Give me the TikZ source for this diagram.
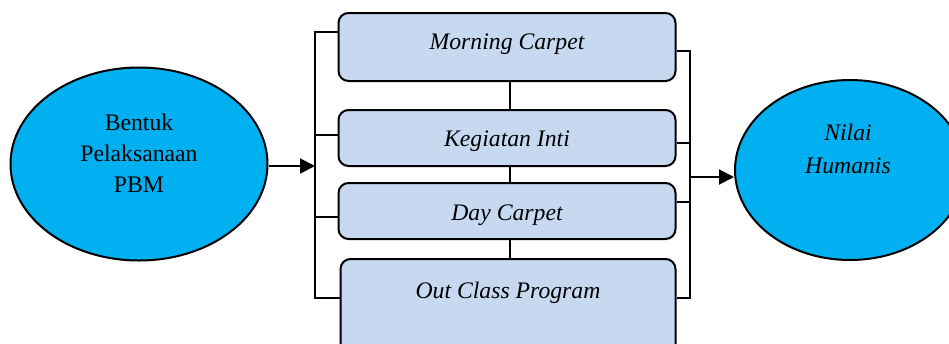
\documentclass[tikz,border=0pt]{standalone}
\usepackage{fontspec}
\setmainfont{Liberation Serif}
\usepackage{tikz}
\usetikzlibrary{arrows.meta, positioning, shapes.geometric}
\definecolor{ovalcyan}{RGB}{0, 176, 240}
\definecolor{boxblue}{RGB}{198, 217, 241}

\begin{document}
\begin{tikzpicture}[x=1pt, y=-1pt, line width=2pt,
    oval/.style={ellipse, draw, fill=ovalcyan, inner sep=0pt},
    stage/.style={rectangle, rounded corners=10pt, draw, fill=boxblue,
        minimum width=337pt, inner sep=0pt},
    txt/.style={align=center, font=\fontsize{23.7}{31}\selectfont},
    itxt/.style={txt, font=\fontsize{23.7}{31}\selectfont\itshape},
    arr/.style={-{Triangle[length=15pt, width=15pt]}}]
    \clip (0,0) rectangle (949,343);
    % kedua elips
    \node[oval, minimum width=257pt, minimum height=193pt] (e1) at (139,164) {};
    \node[txt] (t1) at (139,153) {Bentuk\\Pelaksanaan\\PBM};
    \node[oval, minimum width=230pt, minimum height=180pt] (e2) at (850,170) {};
    \node[itxt, font=\fontsize{23.7}{33}\selectfont\itshape] (t2) at (848,149) {Nilai\\Humanis};
    % kotak kegiatan
    \node[stage, minimum height=68pt] (b1) at (507,47) {};
    \node[itxt] (t1b) at (507,44) {Morning Carpet};
    \node[stage, minimum height=56pt] (b2) at (507,138) {};
    \node[itxt] (t2b) at (507,141) {Kegiatan Inti};
    \node[stage, minimum height=56pt] (b3) at (507,211) {};
    \node[itxt] (t3b) at (507,215) {Day Carpet};
    \node[stage, minimum width=335pt, minimum height=110pt] (b4) at (508,314) {};
    \node[itxt] (t4b) at (508,293) {Out Class Program};
    % garis antar kotak
    \coordinate (mid) at (510,0);
    \draw (b1.south -| mid) -- (b2.north -| mid);
    \draw (b2.south -| mid) -- (b3.north -| mid);
    \draw (b3.south -| mid) -- (b4.north -| mid);
    % kurung kiri
    \coordinate (lt) at (315,32);
    \coordinate (lb) at (315,298);
    \draw (b1.west |- lt) -- (lt) -- (lb) -- (b4.west |- lb);
    \draw ([yshift=3pt]b2.west) -- ([yshift=3pt]b2.west -| lt);
    \draw ([yshift=-6pt]b3.west) -- ([yshift=-6pt]b3.west -| lt);
    \draw[arr] ([yshift=-2pt]e1.east) -- ([yshift=-2pt]e1.east -| lt);
    % kurung kanan
    \coordinate (rt) at (690,51);
    \coordinate (rb) at (690,298);
    \draw (b1.east |- rt) -- (rt) -- (rb) -- (b4.east |- rb);
    \draw ([yshift=-5pt]b2.east) -- ([yshift=-5pt]b2.east -| rt);
    \draw ([yshift=9pt]b3.east) -- ([yshift=9pt]b3.east -| rt);
    \draw[arr] ([yshift=-7pt]e2.west -| rt) -- ([yshift=-7pt]e2.west);
\end{tikzpicture}
\end{document}
